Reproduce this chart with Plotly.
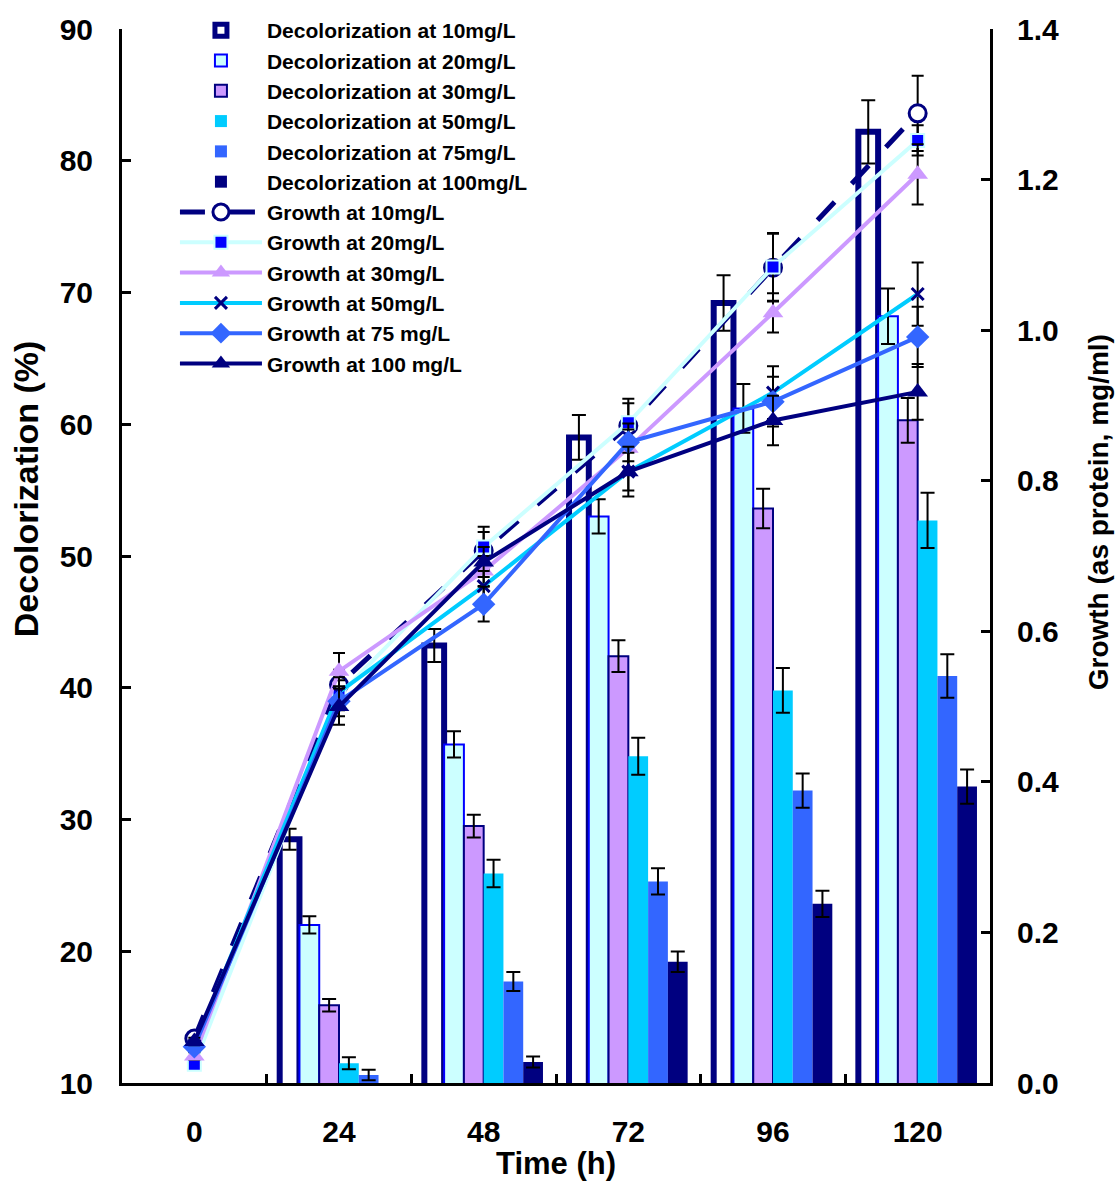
import plotly.graph_objects as go

# Sampling times (h)
times = ["0", "24", "48", "72", "96", "120"]

# Decolorization (%) for each dye concentration
dec_10 = [None, 28.5, 43.2, 59.0, 69.2, 82.2]
dec_20 = [None, 22.0, 35.7, 53.0, 61.2, 68.2]
dec_30 = [None, 15.9, 29.5, 42.4, 53.6, 60.3]
dec_50 = [None, 11.5, 25.9, 34.8, 39.8, 52.7]
dec_75 = [None, 10.6, 17.7, 25.3, 32.2, 40.9]
dec_100 = [None, None, 11.6, 19.2, 23.6, 32.5]

# Standard deviations of decolorization
dec_err_10 = [0, 0.8, 1.25, 1.7, 2.1, 2.4]
dec_err_20 = [0, 0.65, 1.0, 1.3, 1.85, 2.1]
dec_err_30 = [0, 0.47, 0.87, 1.2, 1.5, 1.7]
dec_err_50 = [0, 0.45, 1.05, 1.4, 1.7, 2.1]
dec_err_75 = [0, 0.4, 0.72, 1.0, 1.3, 1.65]
dec_err_100 = [0, 0, 0.42, 0.78, 1.0, 1.3]

# Growth (as protein, mg/ml)
gro_10 = [0.059, 0.529, 0.707, 0.873, 1.083, 1.288]
gro_20 = [0.025, 0.515, 0.712, 0.877, 1.084, 1.252]
gro_30 = [0.036, 0.547, 0.680, 0.843, 1.023, 1.207]
gro_50 = [0.050, 0.519, 0.660, 0.812, 0.917, 1.048]
gro_75 = [0.048, 0.507, 0.636, 0.851, 0.905, 0.991]
gro_100 = [0.055, 0.500, 0.692, 0.812, 0.880, 0.918]

# Standard deviations of growth
gro_err_10 = [0.005, 0.02, 0.025, 0.03, 0.045, 0.05]
gro_err_20 = [0.005, 0.02, 0.027, 0.032, 0.045, 0.02]
gro_err_30 = [0.005, 0.024, 0.02, 0.025, 0.026, 0.04]
gro_err_50 = [0.005, 0.02, 0.02, 0.025, 0.035, 0.042]
gro_err_75 = [0.005, 0.02, 0.023, 0.025, 0.033, 0.04]
gro_err_100 = [0.005, 0.024, 0.02, 0.033, 0.033, 0.037]

NAVY = "#000080"
BLUE = "#0000FF"
LIGHT_CYAN = "#CCFFFF"
LAVENDER = "#CC99FF"
SKY = "#00CCFF"
ROYAL = "#3366FF"
FONT = "Liberation Sans, Arial, sans-serif"

fig = go.Figure()


def err(vals, width=7):
    return dict(type="data", array=vals, visible=True, color="black",
                thickness=2, width=width)


bar_specs = [
    ("Decolorization at 10mg/L", dec_10, dec_err_10, "white", NAVY, 6),
    ("Decolorization at 20mg/L", dec_20, dec_err_20, LIGHT_CYAN, BLUE, 2),
    ("Decolorization at 30mg/L", dec_30, dec_err_30, LAVENDER, NAVY, 2),
    ("Decolorization at 50mg/L", dec_50, dec_err_50, SKY, SKY, 0),
    ("Decolorization at 75mg/L", dec_75, dec_err_75, ROYAL, ROYAL, 0),
    ("Decolorization at 100mg/L", dec_100, dec_err_100, NAVY, NAVY, 0),
]
for name, vals, errs, fill, edge, lw in bar_specs:
    fig.add_trace(go.Bar(
        x=times, y=vals, name=name, yaxis="y",
        marker=dict(color=fill, line=dict(color=edge, width=lw)),
        error_y=err(errs),
    ))

line_specs = [
    ("Growth at 10mg/L", gro_10, gro_err_10, NAVY, "longdash",
     dict(symbol="circle", size=17, color="white", line=dict(color=NAVY, width=3))),
    ("Growth at 20mg/L", gro_20, gro_err_20, LIGHT_CYAN, "solid",
     dict(symbol="square", size=13, color=BLUE, line=dict(color=LIGHT_CYAN, width=2))),
    ("Growth at 30mg/L", gro_30, gro_err_30, LAVENDER, "solid",
     dict(symbol="triangle-up", size=18, color=LAVENDER)),
    ("Growth at 50mg/L", gro_50, gro_err_50, SKY, "solid",
     dict(symbol="x-thin", size=12, color=NAVY, line=dict(color=NAVY, width=3))),
    ("Growth at 75 mg/L", gro_75, gro_err_75, ROYAL, "solid",
     dict(symbol="diamond", size=18, color=ROYAL)),
    ("Growth at 100 mg/L", gro_100, gro_err_100, NAVY, "solid",
     dict(symbol="triangle-up", size=18, color=NAVY)),
]
for name, vals, errs, color, dash, marker in line_specs:
    fig.add_trace(go.Scatter(
        x=times, y=vals, name=name, yaxis="y2", mode="lines+markers",
        line=dict(color=color, width=4 if dash == "solid" else 5, dash=dash),
        marker=marker, error_y=err(errs, 6),
    ))

tick_font = dict(family=FONT, size=30, color="black", weight="bold")
title_font = dict(family=FONT, size=31, color="black", weight="bold")

# Axis titles placed as rotated annotations
fig.add_annotation(
    text="Decolorization (%)", xref="paper", yref="paper",
    x=-0.111, y=0.564, xanchor="center", yanchor="middle", textangle=-90,
    showarrow=False, font=dict(family=FONT, size=34, color="black", weight="bold"),
)
fig.add_annotation(
    text="Growth (as protein, mg/ml)", xref="paper", yref="paper",
    x=1.125, y=0.541, xanchor="center", yanchor="middle", textangle=-90,
    showarrow=False, font=dict(family=FONT, size=28, color="black", weight="bold"),
)

fig.update_layout(
    width=1117, height=1181,
    margin=dict(l=122, r=127, t=29, b=98, autoexpand=False),
    paper_bgcolor="white", plot_bgcolor="white",
    barmode="group", bargap=0.18, bargroupgap=0,
    font=dict(family=FONT, color="black"),
    xaxis=dict(
        type="category", tickson="boundaries", ticks="inside", ticklen=9,
        tickwidth=3, tickcolor="black", showline=True, linecolor="black",
        linewidth=3, showgrid=False, zeroline=False, tickfont=tick_font,
        ticklabelstandoff=20,
        title=dict(text="Time (h)", font=title_font, standoff=0),
    ),
    yaxis=dict(
        range=[10, 90], dtick=10, ticks="inside", ticklen=9, tickwidth=3,
        tickcolor="black", showline=True, linecolor="black", linewidth=3,
        showgrid=False, zeroline=False, tickfont=tick_font,
        ticklabelstandoff=20,
    ),
    yaxis2=dict(
        range=[0, 1.4], dtick=0.2, tickformat=".1f", overlaying="y",
        side="right", ticks="inside", ticklen=9, tickwidth=3,
        tickcolor="black", showline=True, linecolor="black", linewidth=3,
        showgrid=False, zeroline=False, tickfont=tick_font,
        ticklabelstandoff=18,
    ),
    legend=dict(
        x=0.061, y=1.018, xanchor="left", yanchor="top",
        bgcolor="rgba(0,0,0,0)",
        font=dict(family=FONT, size=21, color="black", weight="bold"),
        itemwidth=82, tracegroupgap=0,
    ),
)

fig.write_html("out.html")
